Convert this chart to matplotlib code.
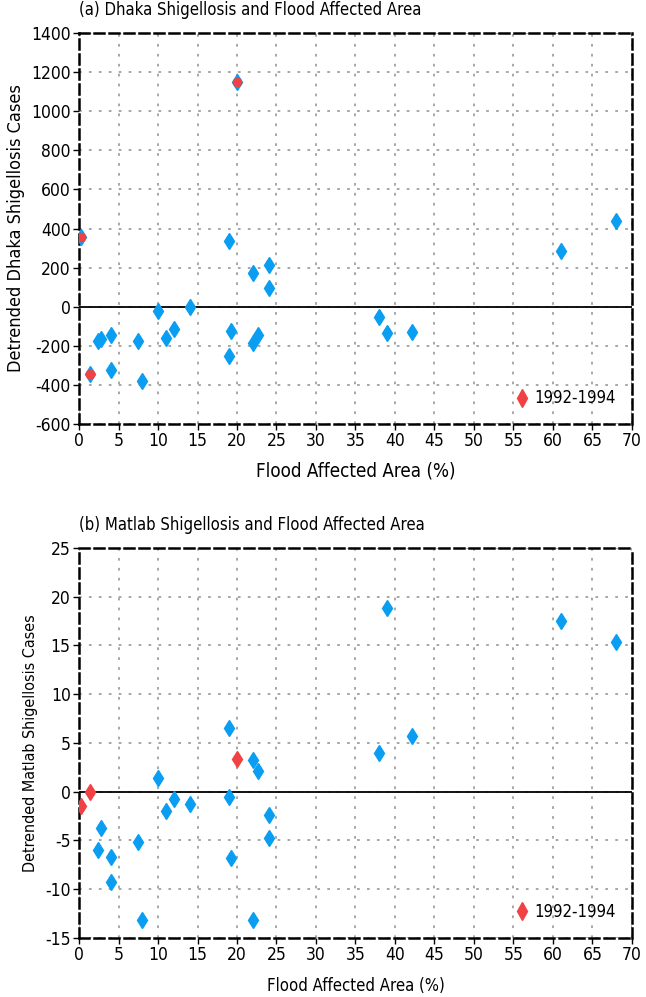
import matplotlib
matplotlib.use("Agg")
import matplotlib.pyplot as plt
from matplotlib.lines import Line2D

# ---- data ----
flood_blue = [2.4, 2.8, 4, 4, 7.5, 8, 10, 11, 12, 14, 19, 19, 19.3, 22, 22, 22.7, 24, 24, 38, 39, 42.2, 61, 68]
dhaka_blue = [-176, -164, -144, -325, -176, -381, -22, -161, -113, 0, 335, -250, -123, 174, -188, -144, 214, 94, -55, -132, -128, 287, 439]
flood_b2 = [2.4, 2.8, 4, 4, 7.5, 8, 10, 11, 12, 14, 19, 19, 19.3, 22, 22, 22.7, 24, 24, 38, 39, 42.2, 61, 68]
matlab_blue = [-5.95, -3.69, -6.66, -9.30, -5.19, -13.19, 1.40, -2.02, -0.75, -1.26, 6.53, -0.51, -6.8, 3.25, -13.19, 2.15, -2.43, -4.72, 3.96, 18.8, 5.67, 17.46, 15.31]
flood_red = [0.2, 1.4, 20]
dhaka_red = [357, -342, 1150]
matlab_red = [-1.44, 0.0, 3.31]
legend_label = "1992-1994"

BLUE = "#0a9ef2"
RED = "#f04245"
plt.rcParams["font.family"] = ["DejaVu Sans"]
plt.rcParams["font.stretch"] = "condensed"
plt.rcParams["axes.unicode_minus"] = False

fig = plt.figure(figsize=(6.46, 9.97), dpi=100)
ax1 = fig.add_axes([0.1223, 0.5747, 0.856, 0.3922])
ax2 = fig.add_axes([0.1223, 0.0592, 0.856, 0.3912])


def style(ax, ylim, yticks):
    ax.set_xlim(0, 70)
    ax.set_ylim(*ylim)
    ax.set_xticks(range(0, 71, 5))
    ax.set_yticks(yticks)
    ax.grid(True, color="#a0a0a0", linestyle=(0, (1.5, 4)), linewidth=1.3)
    ax.set_axisbelow(True)
    for s in ax.spines.values():
        s.set_linestyle((0, (4, 2)))
        s.set_linewidth(1.8)
        s.set_color("black")
    ax.axhline(0, color="black", linewidth=1.3, zorder=2)
    ax.tick_params(direction="out", length=4, width=1, labelsize=12.5, pad=2)


style(ax1, (-600, 1400), range(-600, 1401, 200))
style(ax2, (-15, 25), range(-15, 26, 5))

# top panel
ax1.plot(flood_blue, dhaka_blue, linestyle="none", marker="d", color=BLUE, markersize=8, zorder=3)
ax1.plot(flood_red, dhaka_red, linestyle="none", marker="d", color=BLUE, markersize=8, zorder=3)
ax1.plot(flood_red, dhaka_red, linestyle="none", marker="o", color=RED, markersize=6, zorder=4)
ax1.set_xlabel("Flood Affected Area (%)", fontsize=13.5, labelpad=8)
ax1.set_ylabel("Detrended Dhaka Shigellosis Cases", fontsize=13, labelpad=4)
ax1.text(0.0, 1.035, "(a) Dhaka Shigellosis and Flood Affected Area", transform=ax1.transAxes,
         fontsize=12, ha="left", va="bottom")

# bottom panel
ax2.plot(flood_b2, matlab_blue, linestyle="none", marker="d", color=BLUE, markersize=8, zorder=3)
ax2.plot(flood_red, matlab_red, linestyle="none", marker="d", color=RED, markersize=8, zorder=4)
ax2.set_xlabel("Flood Affected Area (%)", fontsize=12, labelpad=9)
ax2.set_ylabel("Detrended Matlab Shigellosis Cases", fontsize=11.5, labelpad=5)
ax2.text(0.0, 1.035, "(b) Matlab Shigellosis and Flood Affected Area", transform=ax2.transAxes,
         fontsize=12, ha="left", va="bottom")

handle = Line2D([], [], linestyle="none", marker="d", color=RED, markersize=9)
for ax in (ax1, ax2):
    ax.legend([handle], [legend_label], loc="lower right", frameon=False,
              fontsize=12, handletextpad=0.1, borderaxespad=0.6, handlelength=1.2)

fig.savefig("out.png", dpi=100)
